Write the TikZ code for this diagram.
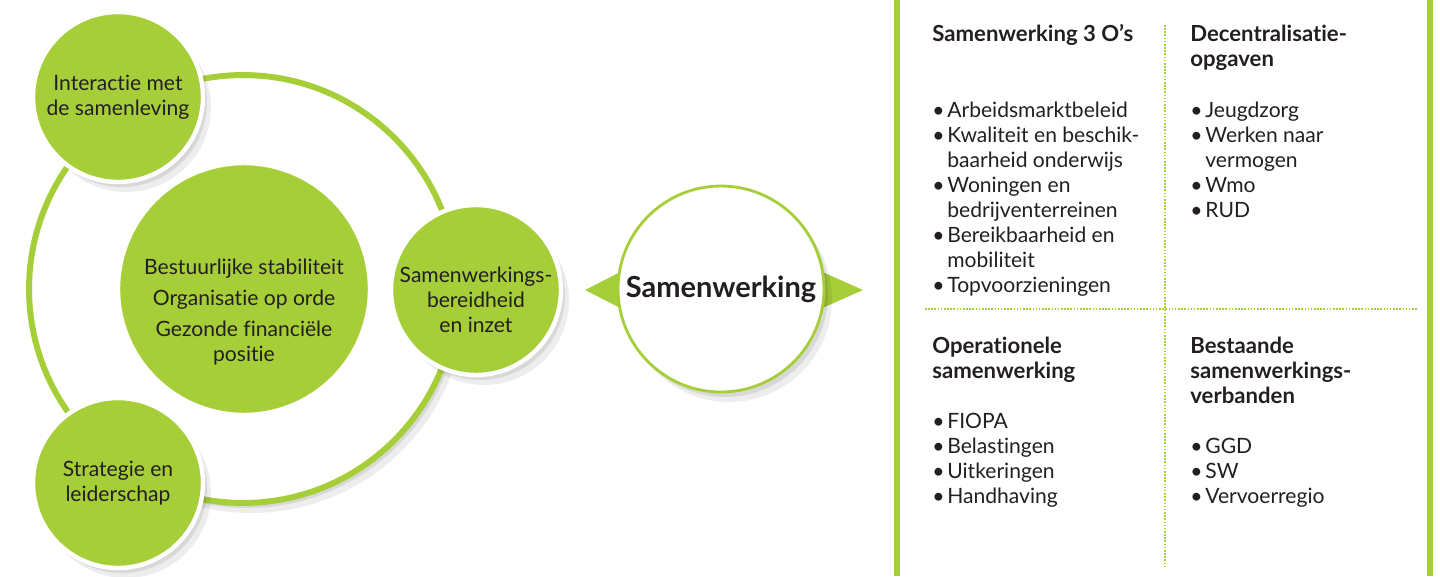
\documentclass[tikz,border=0pt]{standalone}
\usepackage{fontspec}
\setmainfont{Lato}[Ligatures=NoCommon]
\usetikzlibrary{shadows,positioning}

\definecolor{leaf}{RGB}{166,206,57}
\definecolor{ink}{RGB}{35,31,32}
\newcommand{\bul}{\makebox[0.3cm][l]{\textbullet}}
\newcommand{\hang}{\hspace*{0.3cm}}

\begin{document}
\begin{tikzpicture}[x=0.02cm, y=-0.02cm, text=ink, font=\fontsize{12}{14.2}\selectfont]
    \tikzstyle{bubble} = [circle, fill=leaf, draw=white, line width=2.5pt, minimum size=3.4cm, inner sep=0pt, align=center];
    \tikzstyle{shade} = [drop shadow={shadow xshift=0.16cm, shadow yshift=-0.2cm, opacity=0.07, fill=black}, drop shadow={shadow xshift=0.08cm, shadow yshift=-0.1cm, opacity=0.09, fill=black}];
    \tikzstyle{head} = [font=\bfseries\fontsize{12.6}{14.2}\selectfont, anchor=base west, align=left, inner sep=0pt];
    \tikzstyle{items} = [anchor=base west, align=left, inner sep=0pt];
    \tikzstyle{rule} = [leaf, line width=3.4pt];
    \tikzstyle{dots} = [leaf, line width=0.9pt, dash pattern=on 0.9pt off 0.9pt];

    \useasboundingbox (0,0) rectangle (1440,576);

    % left cluster
    \node[circle, draw=leaf, fill=white, line width=3.4pt, minimum size=8.56cm, inner sep=0pt, shade] (ring) at (243,289) {};
    \node[bubble, minimum size=5.04cm] (core) at (244,289) {};
    \node[align=center] (coretext) at ([yshift=-0.46cm]core.center) {Bestuurlijke stabiliteit\\[0.12cm] Organisatie op orde\\[0.12cm] Gezonde financiële\\positie};
    \node[bubble, shade] (society) at (118,97) {Interactie met\\de samenleving};
    \node[bubble, shade] (strategy) at (118,483) {Strategie en\\leiderschap};
    \node[bubble, shade] (willing) at (476,290) {};
    \node[align=center] (willingtext) at ([yshift=-0.2cm]willing.center) {Samenwerkings-\\bereidheid\\en inzet};

    % hub
    \fill[leaf] (585,290) -- (640,262) -- (640,318) -- cycle;
    \fill[leaf] (863,290) -- (800,262) -- (800,318) -- cycle;
    \node[circle, draw=leaf, fill=white, line width=1.6pt, minimum size=4.12cm, inner sep=0pt, shade, font=\bfseries\fontsize{16.5}{19}\selectfont] (coop) at (721,289) {Samenwerking};

    % right panel
    \draw[rule] (897,0) -- (897,576);
    \draw[rule] (1430,0) -- (1430,576);
    \draw[dots] (1165,25) -- (1165,568);
    \draw[dots] (925,309) -- (1418,309);

    \node[head] (threeo) at (932,41) {Samenwerking 3 O’s};
    \node[items] (threeolist) at (932,292) {\bul Arbeidsmarktbeleid\\ \bul Kwaliteit en beschik-\\ \hang baarheid onderwijs\\ \bul Woningen en\\ \hang bedrijventerreinen\\ \bul Bereikbaarheid en\\ \hang mobiliteit\\ \bul Topvoorzieningen};
    \node[head] (decentral) at (1190,66) {Decentralisatie-\\opgaven};
    \node[items] (decentrallist) at (1190,217) {\bul Jeugdzorg\\ \bul Werken naar\\ \hang vermogen\\ \bul Wmo\\ \bul RUD};

    \node[head] (operational) at (932,378) {Operationele\\samenwerking};
    \node[items] (operationallist) at (932,503) {\bul FIOPA\\ \bul Belastingen\\ \bul Uitkeringen\\ \bul Handhaving};
    \node[head] (existing) at (1190,403) {Bestaande\\samenwerkings-\\verbanden};
    \node[items] (existinglist) at (1190,503) {\bul GGD\\ \bul SW\\ \bul Vervoerregio};
\end{tikzpicture}
\end{document}
